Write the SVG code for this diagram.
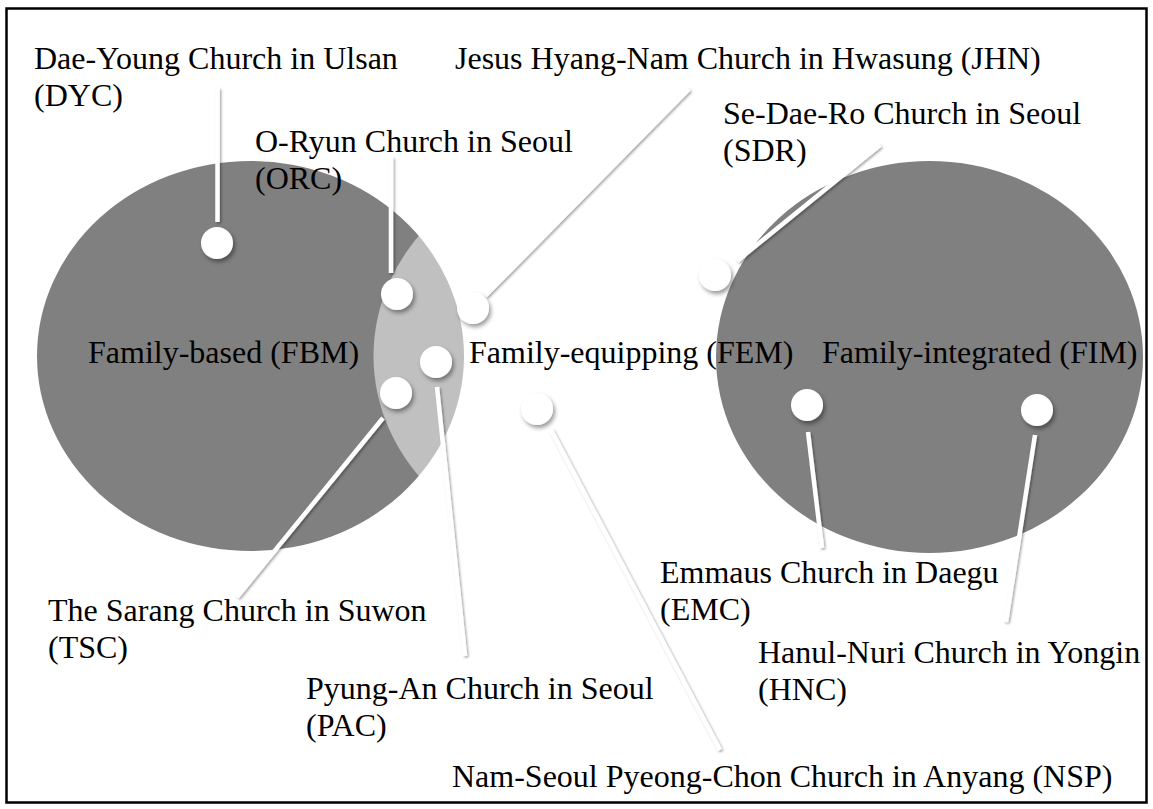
<svg xmlns="http://www.w3.org/2000/svg" width="1153" height="809" viewBox="0 0 1153 809">
  <style>
    .set { fill: #808080; }
    .setmid { fill: #ffffff; fill-opacity: 0.5; }
    .lbl { font-family: "Liberation Serif", "Times New Roman", serif; font-size: 32px; fill: #000; }
    .dot { fill: #ffffff; filter: url(#sh); }
    .conn { stroke: #ffffff; stroke-width: 4.5; stroke-linecap: butt; fill: none; filter: url(#shl); }
  </style>
  <defs>
    <filter id="sh" x="-50%" y="-50%" width="200%" height="200%">
      <feDropShadow dx="2" dy="3" stdDeviation="2" flood-color="#000" flood-opacity="0.4"/>
    </filter>
    <filter id="shl" filterUnits="userSpaceOnUse" x="0" y="0" width="1153" height="809">
      <feDropShadow dx="1.5" dy="1.5" stdDeviation="1" flood-color="#000" flood-opacity="0.35"/>
    </filter>
  </defs>
  <rect x="0" y="0" width="1153" height="809" fill="#ffffff"/>
  <rect x="6.5" y="8.5" width="1140" height="794" fill="none" stroke="#000" stroke-width="2.5"/>

  <g id="FBM">
    <ellipse class="set" cx="250.5" cy="356" rx="213.5" ry="195"/>
  </g>
  <g id="FEM">
    <ellipse class="setmid" cx="587" cy="356" rx="213.5" ry="195"/>
  </g>
  <g id="FIM">
    <ellipse class="set" cx="929.5" cy="357" rx="213.5" ry="196"/>
  </g>

  <g id="set-labels">
    <text class="lbl" x="88" y="363">Family-based (FBM)</text>
    <text class="lbl" x="469" y="363">Family-equipping (FEM)</text>
    <text class="lbl" x="822" y="363">Family-integrated (FIM)</text>
  </g>

  <g id="connectors">
    <line class="conn" x1="217.5" y1="88" x2="217.5" y2="222"/>
    <line class="conn" x1="391" y1="157" x2="391" y2="273"/>
    <line class="conn" x1="485" y1="296" x2="689" y2="89"/>
    <line class="conn" x1="737" y1="261" x2="880" y2="145"/>
    <line class="conn" x1="383" y1="418" x2="237" y2="597"/>
    <line class="conn" x1="437" y1="387" x2="465" y2="656"/>
    <line class="conn" x1="551" y1="430" x2="720" y2="750"/>
    <line class="conn" x1="808" y1="432" x2="822" y2="548"/>
    <line class="conn" x1="1035" y1="435" x2="1006" y2="622"/>
  </g>

  <g id="DYC">
    <circle class="dot" cx="217" cy="243" r="16"/>
    <text class="lbl" x="34" y="69">Dae-Young Church in Ulsan</text>
    <text class="lbl" x="34" y="106">(DYC)</text>
  </g>
  <g id="ORC">
    <circle class="dot" cx="397" cy="294" r="16"/>
    <text class="lbl" x="255" y="152">O-Ryun Church in Seoul</text>
    <text class="lbl" x="255" y="189">(ORC)</text>
  </g>
  <g id="JHN">
    <circle class="dot" cx="473" cy="308" r="16"/>
    <text class="lbl" x="455" y="69">Jesus Hyang-Nam Church in Hwasung (JHN)</text>
  </g>
  <g id="SDR">
    <circle class="dot" cx="715" cy="275" r="16"/>
    <text class="lbl" x="723" y="124">Se-Dae-Ro Church in Seoul</text>
    <text class="lbl" x="723" y="161">(SDR)</text>
  </g>
  <g id="PAC">
    <circle class="dot" cx="436" cy="362" r="16"/>
    <text class="lbl" x="306" y="699">Pyung-An Church in Seoul</text>
    <text class="lbl" x="306" y="736">(PAC)</text>
  </g>
  <g id="TSC">
    <circle class="dot" cx="396" cy="393" r="16"/>
    <text class="lbl" x="48" y="621">The Sarang Church in Suwon</text>
    <text class="lbl" x="48" y="658">(TSC)</text>
  </g>
  <g id="NSP">
    <circle class="dot" cx="537" cy="409" r="16"/>
    <text class="lbl" x="452" y="787">Nam-Seoul Pyeong-Chon Church in Anyang (NSP)</text>
  </g>
  <g id="EMC">
    <circle class="dot" cx="807" cy="405" r="16"/>
    <text class="lbl" x="660" y="583">Emmaus Church in Daegu</text>
    <text class="lbl" x="660" y="620">(EMC)</text>
  </g>
  <g id="HNC">
    <circle class="dot" cx="1037" cy="410" r="16"/>
    <text class="lbl" x="758" y="663">Hanul-Nuri Church in Yongin</text>
    <text class="lbl" x="758" y="700">(HNC)</text>
  </g>
</svg>
